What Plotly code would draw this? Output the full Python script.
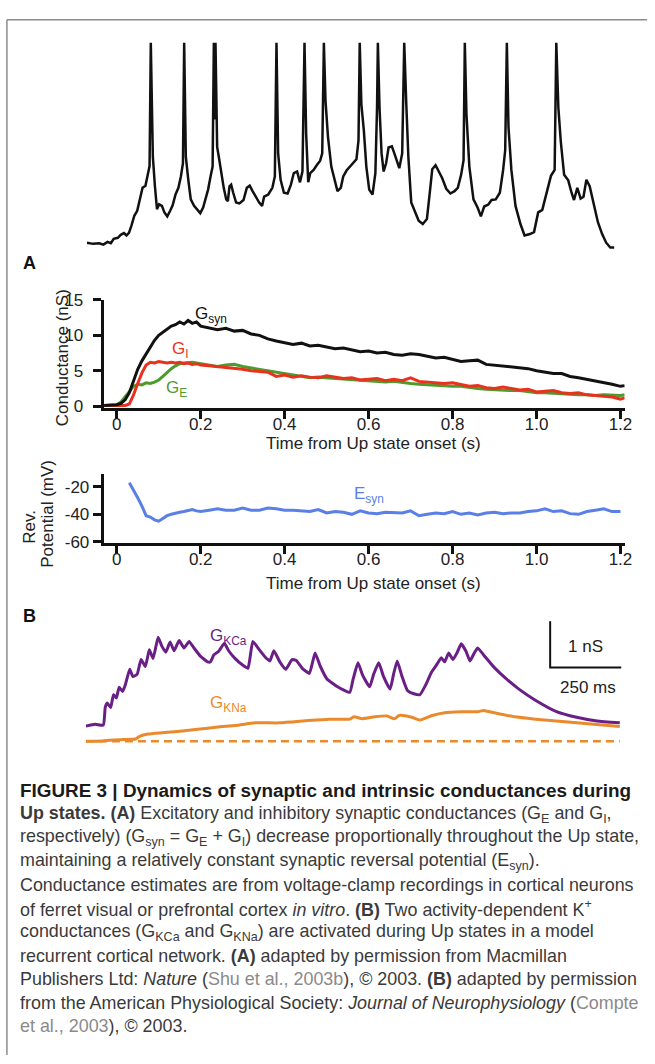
import plotly.graph_objects as go

W, H = 655, 1064
FONT = "Liberation Sans, Arial, Helvetica, sans-serif"

# ---- top trace: membrane potential during an Up state (ms, mV) ----
VM_T = [0, 15, 30, 40, 50, 58, 65, 75, 82, 90,
        96, 102, 108, 115, 122, 128, 135, 142, 148, 152,
        155, 160, 165, 170, 175, 182, 188, 195, 202, 208,
        215, 222, 228, 233, 236, 240, 246, 252, 260, 268,
        275, 282, 288, 294, 300, 305, 308, 310, 312, 316,
        320, 326, 332, 338, 342, 346, 350, 355, 362, 370,
        380, 388, 395, 402, 410, 418, 425, 430, 440, 450,
        456, 460, 464, 470, 478, 487, 495, 502, 510, 517,
        523, 528, 532, 537, 542, 550, 558, 566, 571, 575,
        579, 585, 593, 600, 608, 616, 622, 630, 638, 646,
        654, 659, 662, 666, 672, 678, 685, 693, 700, 704,
        706, 710, 715, 720, 726, 732, 740, 746, 753, 758,
        765, 770, 775, 780, 787, 795, 805, 815, 825, 832,
        838, 846, 853, 862, 872, 882, 892, 900, 908, 914,
        917, 921, 928, 938, 948, 956, 964, 974, 982, 992,
        1002, 1010, 1015, 1019, 1023, 1030, 1040, 1052, 1062, 1075,
        1085, 1095, 1105, 1115, 1126, 1135, 1139, 1144, 1150, 1158,
        1168, 1176, 1182, 1190, 1198, 1205, 1212, 1220, 1230, 1240,
        1250, 1260, 1270, 1280]
VM_V = [-78.7, -79.3, -79.0, -79.7, -78.3, -79.0, -76.7, -76.2, -74.7, -73.8,
        -75.0, -73.7, -70.0, -65.0, -62.5, -56.7, -50.8, -49.7, -43.3, -39.7,
        23, -35.0, -50.0, -61.7, -59.2, -60.0, -63.3, -65.3, -62.5, -59.7,
        -54.2, -50.8, -45.0, -38.3, 23, -35.0, -46.7, -56.7, -60.0, -62.0,
        -63.7, -60.8, -55.8, -51.7, -45.0, -40.0, 23, -16.0, 23, -30.0,
        -35.0, -43.3, -50.8, -56.7, -57.5, -50.0, -49.2, -53.3, -58.3, -58.7,
        -57.0, -50.8, -49.7, -52.5, -55.8, -58.3, -60.0, -55.3, -54.2, -50.8,
        -45.0, 23, -33.3, -46.7, -53.3, -53.7, -49.2, -43.3, -42.5, -48.0,
        -42.5, 23, -23.3, -48.0, -43.3, -41.7, -39.2, -37.0, -33.3, 23,
        -6.7, -25.0, -40.0, -45.8, -52.5, -50.8, -45.0, -42.0, -40.0, -38.3,
        -36.3, -26.7, 23, -8.3, -21.7, -40.0, -51.7, -54.2, -43.3, -10.0,
        23, -10.0, -33.3, -42.5, -38.3, -30.3, -29.7, -33.3, -38.3, -40.8,
        -33.3, 23, -8.3, -35.0, -58.3, -62.0, -67.5, -69.2, -66.7, -53.3,
        -41.3, -39.3, -42.0, -45.8, -51.3, -53.7, -52.5, -50.8, -44.2, -36.7,
        23, -13.3, -40.0, -56.7, -60.8, -65.3, -60.3, -59.3, -57.0, -56.7,
        -53.3, -41.7, -31.7, 23, -20.0, -41.7, -60.0, -69.2, -75.0, -74.3,
        -73.3, -63.3, -62.0, -53.3, -44.7, -41.7, 23, -10.0, -27.5, -44.2,
        -47.0, -53.3, -57.0, -50.8, -56.3, -55.3, -46.7, -50.0, -60.0, -68.3,
        -74.2, -78.7, -81.2, -81.2]

# ---- A: synaptic conductances (s, nS) ----
A_T = [-0.03, -0.02, -0.01, 0.00, 0.01, 0.02, 0.03, 0.04, 0.05, 0.06,
       0.07, 0.08, 0.09, 0.10, 0.11, 0.12, 0.13, 0.14, 0.15, 0.16,
       0.17, 0.18, 0.19, 0.20,
       0.22, 0.24, 0.26, 0.28, 0.30, 0.32, 0.34, 0.36, 0.38, 0.40,
       0.42, 0.44, 0.46, 0.48, 0.50, 0.52, 0.54, 0.56, 0.58, 0.60,
       0.62, 0.64, 0.66, 0.68, 0.70, 0.72, 0.74, 0.76, 0.78, 0.80,
       0.82, 0.84, 0.86, 0.88, 0.90, 0.92, 0.94, 0.96, 0.98, 1.00,
       1.02, 1.04, 1.06, 1.08, 1.10, 1.12, 1.14, 1.16, 1.18, 1.20,
       1.21]
G_SYN = [0.1, 0.1, 0.1, 0.2, 0.4, 0.9, 1.9, 3.5, 5.2, 6.4,
         7.4, 8.4, 9.3, 10.0, 10.4, 10.9, 11.3, 11.5, 11.9, 11.6,
         12.1, 11.7, 11.9, 11.3,
         11.0, 10.8, 11.0, 10.6, 10.7, 10.2, 10.0, 9.5, 9.2, 8.9,
         8.7, 8.9, 8.5, 8.6, 8.3, 8.1, 8.2, 7.9, 7.7, 7.8,
         7.5, 7.6, 7.3, 7.2, 7.4, 7.3, 7.0, 6.8, 6.9, 6.6,
         6.3, 6.4, 6.5, 5.9, 5.8, 5.7, 5.6, 5.4, 5.3, 5.0,
         4.8, 4.6, 4.6, 4.2, 4.0, 3.8, 3.6, 3.3, 3.1, 2.8,
         2.9]
G_I = [0.1, 0.1, 0.1, 0.1, 0.1, 0.1, 0.3, 1.6, 3.2, 4.7,
       5.8, 6.2, 6.1, 6.3, 6.2, 6.1, 6.2, 6.1, 6.2, 6.0,
       6.1, 5.9, 6.0, 5.8,
       5.7, 5.6, 5.5, 5.3, 5.2, 5.0, 4.9, 4.8, 4.2, 4.4,
       4.1, 4.3, 4.1, 4.0, 4.3, 4.1, 3.9, 4.0, 3.7, 3.8,
       3.9, 3.6, 3.8, 3.6, 4.0, 3.5, 3.4, 3.3, 3.2, 3.3,
       3.0, 2.8, 2.9, 2.6, 2.5, 2.7, 2.5, 2.3, 2.4, 2.0,
       2.1, 2.2, 1.9, 1.8, 1.9, 1.6, 1.5, 1.4, 1.3, 1.0,
       1.2]
G_E = [0.1, 0.1, 0.1, 0.2, 0.6, 1.3, 2.1, 2.8, 3.1, 3.0,
       3.3, 3.2, 3.4, 3.7, 4.2, 4.8, 5.3, 5.7, 6.0, 6.1,
       6.2, 6.2, 6.1, 6.0,
       5.8, 5.6, 5.8, 5.9, 5.6, 5.4, 5.3, 5.0, 4.9, 4.6,
       4.4, 4.3, 4.0, 4.1, 4.0, 3.9, 3.8, 3.7, 3.6, 3.6,
       3.5, 3.4, 3.5, 3.3, 3.2, 3.1, 3.0, 2.9, 2.9, 2.8,
       2.8, 2.6, 2.5, 2.4, 2.3, 2.3, 2.2, 2.2, 2.0, 1.9,
       1.9, 1.8, 1.7, 1.7, 1.6, 1.6, 1.5, 1.6, 1.5, 1.5,
       1.6]

ESYN_T = [0.03, 0.04, 0.05, 0.06, 0.07, 0.08, 0.09, 0.10, 0.11, 0.12,
          0.13, 0.14, 0.15, 0.16, 0.17, 0.18, 0.19, 0.20,
          0.22, 0.24, 0.26, 0.28, 0.30, 0.32, 0.34, 0.36, 0.38, 0.40,
          0.42, 0.44, 0.46, 0.48, 0.50, 0.52, 0.54, 0.56, 0.58, 0.60,
          0.62, 0.64, 0.66, 0.68, 0.70, 0.72, 0.74, 0.76, 0.78, 0.80,
          0.82, 0.84, 0.86, 0.88, 0.90, 0.92, 0.94, 0.96, 0.98, 1.00,
          1.02, 1.04, 1.06, 1.08, 1.10, 1.12, 1.14, 1.16, 1.18, 1.20]
E_SYN = [-17, -22, -28, -34, -41, -42, -44, -45, -43, -41,
         -40, -39, -38.5, -38, -37.5, -36.5, -37.5, -38,
         -37, -36, -37, -37, -35.5, -37, -37, -35.5, -36, -37,
         -37, -37.5, -38, -36.5, -39, -38, -38.5, -40, -37.5, -39,
         -39.5, -38.5, -38.5, -39, -37.5, -41, -40, -39, -39.5, -38,
         -40, -39, -40.5, -39, -38.5, -39.5, -39, -39, -38, -37.5,
         -36, -38, -37.5, -39.5, -40, -38, -37, -36, -38, -38]

# ---- B: activity-dependent K+ conductances in the model (ms, nS) ----
KCA_T = [0, 32, 61, 68, 75, 87, 97, 107, 117, 129,
         139, 154, 165, 180, 194, 209, 223, 236, 254, 267,
         281, 296, 310, 328, 345, 363, 380, 403, 428, 438,
         450, 467, 487, 502, 525, 551, 570, 587, 609, 631,
         647, 661, 682, 703, 725, 740, 761, 786, 806, 824,
         848, 885, 928, 940, 957, 974, 998, 1012, 1030, 1047,
         1070, 1082, 1095, 1111, 1131, 1153, 1175, 1196, 1215, 1235,
         1250, 1262, 1276, 1291, 1305, 1320, 1337, 1351, 1366, 1378,
         1399, 1436, 1479, 1523, 1581, 1653, 1726, 1798, 1878]
G_KCA = [0.33, 0.37, 0.35, 0.74, 0.83, 0.73, 1.01, 0.94, 1.17, 1.08,
         1.23, 1.56, 1.40, 1.45, 1.77, 1.62, 1.98, 1.79, 2.25, 2.06,
         1.93, 2.15, 1.96, 2.18, 2.02, 2.16, 2.02, 1.84, 1.72, 1.72,
         1.87, 1.95, 2.12, 1.96, 1.79, 1.65, 1.58, 2.16, 1.99, 1.82,
         1.74, 1.96, 1.72, 1.56, 1.77, 1.75, 1.58, 1.47, 1.91, 1.63,
         1.35, 1.18, 1.06, 1.35, 1.70, 1.42, 1.18, 1.45, 1.70, 1.40,
         1.13, 1.45, 1.74, 1.42, 1.10, 1.03, 1.01, 1.23, 1.49, 1.67,
         1.81, 1.72, 1.91, 1.77, 1.91, 2.11, 1.95, 1.74, 1.91, 2.02,
         1.87, 1.60, 1.35, 1.13, 0.89, 0.65, 0.52, 0.44, 0.40]
KNA_T = [0, 58, 131, 174, 189, 218, 276, 348, 421, 479,
         537, 595, 682, 783, 856, 928, 943, 972, 1015, 1059,
         1085, 1102, 1146, 1175, 1218, 1262, 1320, 1378, 1399, 1436,
         1508, 1581, 1726, 1878]
G_KNA = [0.0, 0.01, 0.04, 0.05, 0.11, 0.16, 0.19, 0.23, 0.28, 0.32,
         0.35, 0.40, 0.40, 0.45, 0.48, 0.48, 0.53, 0.49, 0.53, 0.55,
         0.49, 0.56, 0.52, 0.46, 0.56, 0.62, 0.64, 0.64, 0.67, 0.62,
         0.53, 0.48, 0.40, 0.32]

A_TICKS = [0, 0.2, 0.4, 0.6, 0.8, 1.0, 1.2]
A_TICK_TEXT = ["0", "0.2", "0.4", "0.6", "0.8", "1.0", "1.2"]
COND_TICKS = [0, 5, 10, 15]
REV_TICKS = [-60, -40, -20]
REV_TICK_TEXT = ["-60", "-40", "-20"]
SCALE_MS = 250
SCALE_NS = 1

C_BLACK = "#111111"
C_RED = "#e8321e"
C_GREEN = "#4e9a2c"
C_BLUE = "#5a7fe6"
C_PURPLE = "#6a1f86"
C_ORANGE = "#ea8a2c"


def fx(px):
    return px / W


def fy(py):
    return 1 - py / H


fig = go.Figure()

# top voltage trace
fig.add_trace(go.Scatter(x=VM_T, y=VM_V, mode="lines", xaxis="x", yaxis="y",
                         line=dict(color=C_BLACK, width=2.5)))
# A: conductances
fig.add_trace(go.Scatter(x=A_T, y=G_E, mode="lines", xaxis="x2", yaxis="y2",
                         line=dict(color=C_GREEN, width=3)))
fig.add_trace(go.Scatter(x=A_T, y=G_I, mode="lines", xaxis="x2", yaxis="y2",
                         line=dict(color=C_RED, width=3)))
fig.add_trace(go.Scatter(x=A_T, y=G_SYN, mode="lines", xaxis="x2", yaxis="y2",
                         line=dict(color=C_BLACK, width=3)))
# A: reversal potential
fig.add_trace(go.Scatter(x=ESYN_T, y=E_SYN, mode="lines", xaxis="x3", yaxis="y3",
                         line=dict(color=C_BLUE, width=3)))
# B: K+ conductances
fig.add_trace(go.Scatter(x=[KNA_T[0], KCA_T[-1]], y=[0, 0], mode="lines",
                         xaxis="x4", yaxis="y4",
                         line=dict(color=C_ORANGE, width=2.5, dash="8px,5px")))
fig.add_trace(go.Scatter(x=KNA_T, y=G_KNA, mode="lines", xaxis="x4", yaxis="y4",
                         line=dict(color=C_ORANGE, width=3, shape="spline",
                                   smoothing=0.5)))
fig.add_trace(go.Scatter(x=KCA_T, y=G_KCA, mode="lines", xaxis="x4", yaxis="y4",
                         line=dict(color=C_PURPLE, width=3, shape="spline",
                                   smoothing=0.4)))
# scale bar
sb_t, sb_g = 1633, 1.6
fig.add_trace(go.Scatter(x=[sb_t, sb_t, sb_t + SCALE_MS],
                         y=[sb_g + SCALE_NS, sb_g, sb_g], mode="lines",
                         xaxis="x4", yaxis="y4",
                         line=dict(color=C_BLACK, width=2)))

hidden = dict(visible=False, showgrid=False, zeroline=False)
tickfont = dict(family=FONT, size=17, color="#222")
ax = dict(showline=True, linecolor=C_BLACK, linewidth=3, ticks="outside",
          ticklen=8, tickwidth=3, tickcolor=C_BLACK, showgrid=False,
          zeroline=False, tickfont=tickfont)

fig.update_layout(
    width=W, height=H, margin=dict(l=0, r=0, t=0, b=0),
    paper_bgcolor="white", plot_bgcolor="rgba(0,0,0,0)", showlegend=False,
    xaxis=dict(hidden, domain=[fx(88), fx(622)], range=[0, 1280]),
    yaxis=dict(hidden, domain=[fy(246.3), fy(32.3)], range=[-83, 24]),
    xaxis2=dict(ax, domain=[fx(105), fx(632.4)], range=[-0.031, 1.21],
                tickvals=A_TICKS, ticktext=A_TICK_TEXT, anchor="y2",
                ticklabelstandoff=-9),
    yaxis2=dict(ax, domain=[fy(405.8), fy(295.6)], range=[-0.25, 15.05],
                tickvals=COND_TICKS, anchor="x2", ticklabelstandoff=6),
    xaxis3=dict(ax, domain=[fx(105), fx(632.4)], range=[-0.031, 1.21],
                tickvals=A_TICKS, ticktext=A_TICK_TEXT, anchor="y3",
                ticklabelstandoff=-9),
    yaxis3=dict(ax, domain=[fy(542.7), fy(473)], range=[-60.5, -10.7],
                tickvals=REV_TICKS, ticktext=REV_TICK_TEXT, anchor="x3",
                ticklabelstandoff=0),
    xaxis4=dict(hidden, domain=[fx(87), fx(633.8)], range=[0, 1900], anchor="y4"),
    yaxis4=dict(hidden, domain=[fy(760), fy(610)], range=[-0.32, 2.87], anchor="x4"),
)

ann = []


def label(text, x, y, xref, yref, size=17, color="#222", angle=0,
          xanchor="center", yanchor="middle"):
    ann.append(dict(text=text, x=x, y=y, xref=xref, yref=yref, showarrow=False,
                    textangle=angle, xanchor=xanchor, yanchor=yanchor,
                    font=dict(family=FONT, size=size, color=color)))


# panel letters
label("<b>A</b>", fx(30), fy(258), "paper", "paper", size=18, color=C_BLACK)
label("<b>B</b>", fx(30), fy(617), "paper", "paper", size=18, color=C_BLACK)

# axis titles
label("Conductance (nS)", fx(64), fy(355), "paper", "paper", angle=-90)
label("Time from Up state onset (s)", fx(378), fy(442), "paper", "paper")
label("Rev.", fx(29), fy(527), "paper", "paper", angle=-90)
label("Potential (mV)", fx(48), fy(513), "paper", "paper", angle=-90)
label("Time from Up state onset (s)", fx(378), fy(584), "paper", "paper")

# trace labels
label("G<sub>syn</sub>", 0.225, 12.9, "x2", "y2", color=C_BLACK)
label("G<sub>I</sub>", 0.153, 7.9, "x2", "y2", color=C_RED)
label("G<sub>E</sub>", 0.143, 2.4, "x2", "y2", color=C_GREEN)
label("E<sub>syn</sub>", 0.6, -26, "x3", "y3", color=C_BLUE)
label("G<sub>KCa</sub>", 500, 2.25, "x4", "y4", color=C_PURPLE)
label("G<sub>KNa</sub>", 500, 0.8, "x4", "y4", color=C_ORANGE)
label("1 nS", 1690, 2.05, "x4", "y4", xanchor="left", color="#222")
label("250 ms", 1765, 1.17, "x4", "y4", color="#222")

# caption
GREY = "#8a8a8a"
CAPTION = [
    "<b>FIGURE 3 | Dynamics of synaptic and intrinsic conductances during</b>",
    "<b>Up states. (A)</b> Excitatory and inhibitory synaptic conductances (G<sub>E</sub> and G<sub>I</sub>,",
    "respectively) (G<sub>syn</sub> = G<sub>E</sub> + G<sub>I</sub>) decrease proportionally throughout the Up state,",
    "maintaining a relatively constant synaptic reversal potential (E<sub>syn</sub>).",
    "Conductance estimates are from voltage-clamp recordings in cortical neurons",
    "of ferret visual or prefrontal cortex <i>in vitro</i>. <b>(B)</b> Two activity-dependent K<sup>+</sup>",
    "conductances (G<sub>KCa</sub> and G<sub>KNa</sub>) are activated during Up states in a model",
    "recurrent cortical network. <b>(A)</b> adapted by permission from Macmillan",
    "Publishers Ltd: <i>Nature</i> (<span style='color:%s'>Shu et al., 2003b</span>), © 2003. <b>(B)</b> adapted by permission" % GREY,
    "from the American Physiological Society: <i>Journal of Neurophysiology</i> (<span style='color:%s'>Compte</span>" % GREY,
    "<span style='color:%s'>et al., 2003</span>), © 2003." % GREY,
]
for i, line in enumerate(CAPTION):
    label(line, fx(18), fy(795 + 24 * i), "paper", "paper",
          size=18.9 if i == 0 else 17.9,
          color="#1a1a1a" if i == 0 else "#3a3a3a", xanchor="left")

fig.update_layout(annotations=ann)

# frame (top and left edges)
fig.add_shape(type="line", xref="paper", yref="paper", x0=fx(7), x1=1,
              y0=fy(11), y1=fy(11), line=dict(color="#8c8c8c", width=1.5))
fig.add_shape(type="line", xref="paper", yref="paper", x0=fx(7), x1=fx(7),
              y0=fy(11), y1=0, line=dict(color="#8c8c8c", width=1.5))

# the page should hold the figure edge to edge, without the default body margin
fig.write_html("out.html", config={"displayModeBar": False},
               post_script="document.body.style.margin='0';"
                           "document.body.style.overflow='hidden';")
